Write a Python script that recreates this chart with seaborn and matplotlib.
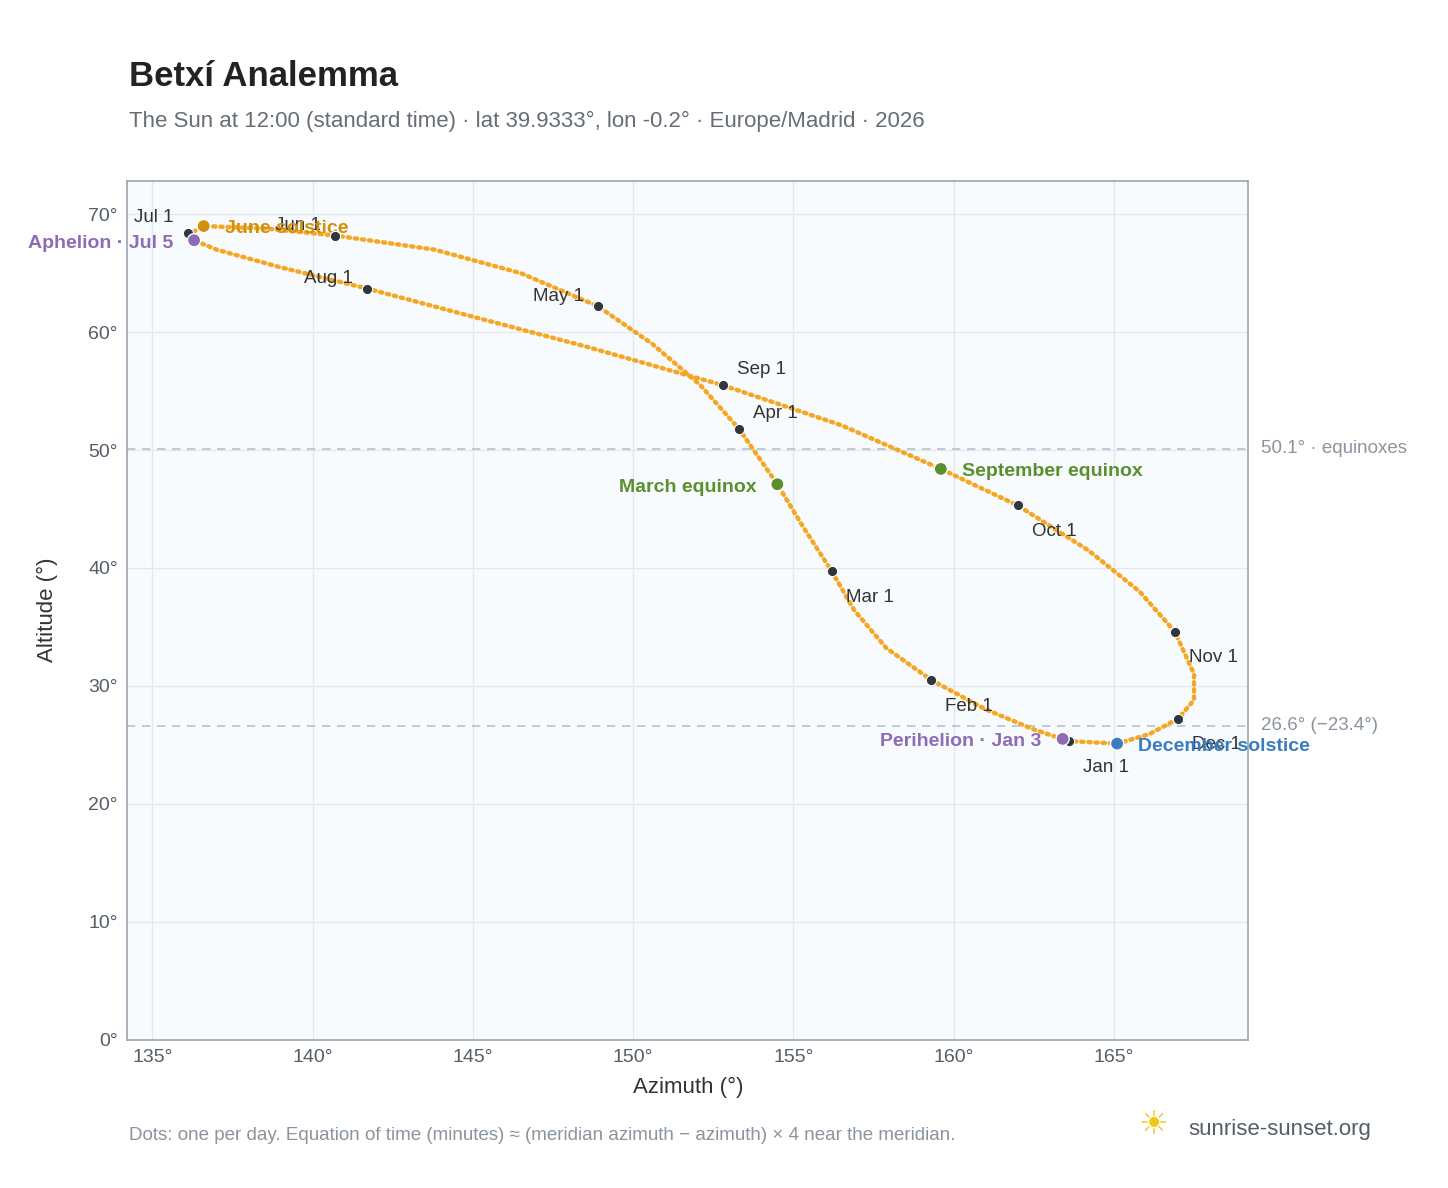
import matplotlib
matplotlib.use('Agg')
import matplotlib.pyplot as plt
import pandas as pd
import seaborn as sns

# Sun path, roughly every 10 days
PATH_AZ = [163.6, 162.5, 161.0, 159.3, 157.9, 156.9, 156.2, 155.3, 154.5, 153.3, 152.1, 150.6,
           148.9, 146.5, 143.8, 140.7, 138.5, 136.6, 136.2, 136.3, 137.0, 139.0, 141.7, 144.6,
           148.5, 152.8, 156.5, 159.6, 162.0, 164.2, 165.8, 166.9, 167.5, 167.5, 167.0, 166.1,
           165.1, 163.7]
PATH_ALT = [25.3, 26.3, 28.0, 30.5, 33.2, 36.4, 39.7, 43.5, 47.1, 51.8, 55.5, 59.0,
            62.2, 65.0, 67.0, 68.2, 68.8, 69.0, 68.4, 67.8, 67.0, 65.5, 63.7, 61.6,
            58.8, 55.5, 52.1, 48.4, 45.3, 41.5, 38.0, 34.6, 31.0, 28.8, 27.2, 25.9,
            25.1, 25.3]

MONTHS = ['Jan 1', 'Feb 1', 'Mar 1', 'Apr 1', 'May 1', 'Jun 1', 'Jul 1', 'Aug 1',
          'Sep 1', 'Oct 1', 'Nov 1', 'Dec 1']
MONTH_AZ = [163.6, 159.3, 156.2, 153.3, 148.9, 140.7, 136.1, 141.7, 152.8, 162.0, 166.9, 167.0]
MONTH_ALT = [25.3, 30.5, 39.7, 51.8, 62.2, 68.2, 68.4, 63.7, 55.5, 45.3, 34.6, 27.2]
MONTH_OFF = [(10, -22), (10, -22), (10, -22), (10, 8), (-10, 4), (-10, 4), (-10, 8), (-10, 4),
             (10, 8), (10, -22), (10, -22), (10, -22)]

EVENTS = ['March equinox', 'September equinox', 'June solstice', 'December solstice',
          'Aphelion · Jul 5', 'Perihelion · Jan 3']
EVENT_AZ = [154.5, 159.6, 136.6, 165.1, 136.3, 163.4]
EVENT_ALT = [47.1, 48.4, 69.0, 25.1, 67.8, 25.5]
EVENT_COL = ['#5a8f2e', '#5a8f2e', '#d4900a', '#3b7bbf', '#8e6bb5', '#8e6bb5']
EVENT_RIGHT = [False, True, True, True, False, False]

EQUINOX_ALT = 50.1
SOLSTICE_ALT = 26.6

sns.set_style('white')
plt.rcParams['font.family'] = ['Liberation Sans', 'DejaVu Sans']

fig = plt.figure(figsize=(14.48, 11.88), dpi=100)
ax = fig.add_axes([0.088, 0.125, 0.774, 0.723])
ax.set_facecolor('#f8fbfd')
ax.grid(True, color='#e3e8ee', lw=1)
for s in ax.spines.values():
    s.set_color('#9aa6b2')
    s.set_linewidth(1.2)

for y, lab in [(EQUINOX_ALT, '50.1° · equinoxes'), (SOLSTICE_ALT, '26.6° (−23.4°)')]:
    ax.axhline(y, color='#b4c2ce', ls=(0, (5, 4)), lw=1.2)
    ax.text(1.011, y, lab, transform=ax.get_yaxis_transform(), va='center',
            fontsize=13.5, color='#8a949e')

path = pd.DataFrame({'az': PATH_AZ, 'alt': PATH_ALT})
sns.lineplot(data=path, x='az', y='alt', sort=False, ax=ax, color='#f5a623',
             lw=3.2, ls=(0, (0.5, 1.1)), dash_capstyle='round', estimator=None)

sns.scatterplot(x=MONTH_AZ, y=MONTH_ALT, ax=ax, color='#2f3640', s=55, zorder=5,
                edgecolor='white', linewidth=0.8)
for lab, x, y, off in zip(MONTHS, MONTH_AZ, MONTH_ALT, MONTH_OFF):
    ax.annotate(lab, (x, y), xytext=off, textcoords='offset points', fontsize=13.5,
                color='#333333', ha='left' if off[0] > 0 else 'right')

sns.scatterplot(x=EVENT_AZ, y=EVENT_ALT, ax=ax, hue=EVENTS, palette=EVENT_COL, s=90,
                zorder=6, edgecolor='white', linewidth=1, legend=False)
for lab, x, y, c, r in zip(EVENTS, EVENT_AZ, EVENT_ALT, EVENT_COL, EVENT_RIGHT):
    ax.annotate(lab, (x, y), xytext=(15 if r else -15, -2), textcoords='offset points',
                fontsize=14, fontweight='bold', color=c, va='center',
                ha='left' if r else 'right', annotation_clip=False)

ax.set_xlim(134.22, 169.19)
ax.set_ylim(0, 72.86)
ax.set_xticks(range(135, 170, 5))
ax.set_xticklabels([f'{v}°' for v in range(135, 170, 5)])
ax.set_yticks(range(0, 71, 10))
ax.set_yticklabels([f'{v}°' for v in range(0, 71, 10)])
ax.tick_params(labelsize=14, colors='#555d66', length=0, pad=7)
ax.set_xlabel('Azimuth (°)', fontsize=16, color='#333333', labelpad=8)
ax.set_ylabel('Altitude (°)', fontsize=16, color='#333333', labelpad=22)

fig.text(0.089, 0.928, 'Betxí Analemma', fontsize=25, fontweight='bold', color='#222222')
fig.text(0.089, 0.893, 'The Sun at 12:00 (standard time) · lat 39.9333°, lon -0.2° · Europe/Madrid · 2026',
         fontsize=16, color='#666d75')
fig.text(0.089, 0.040, 'Dots: one per day. Equation of time (minutes) ≈ (meridian azimuth − azimuth) × 4 near the meridian.',
         fontsize=13.5, color='#8a949e')
fig.text(0.821, 0.045, 'sunrise-sunset.org', fontsize=16, color='#555d66')
fig.text(0.786, 0.045, '☀', fontsize=24, color='#f5c518')

fig.savefig('out.png', dpi=100)
